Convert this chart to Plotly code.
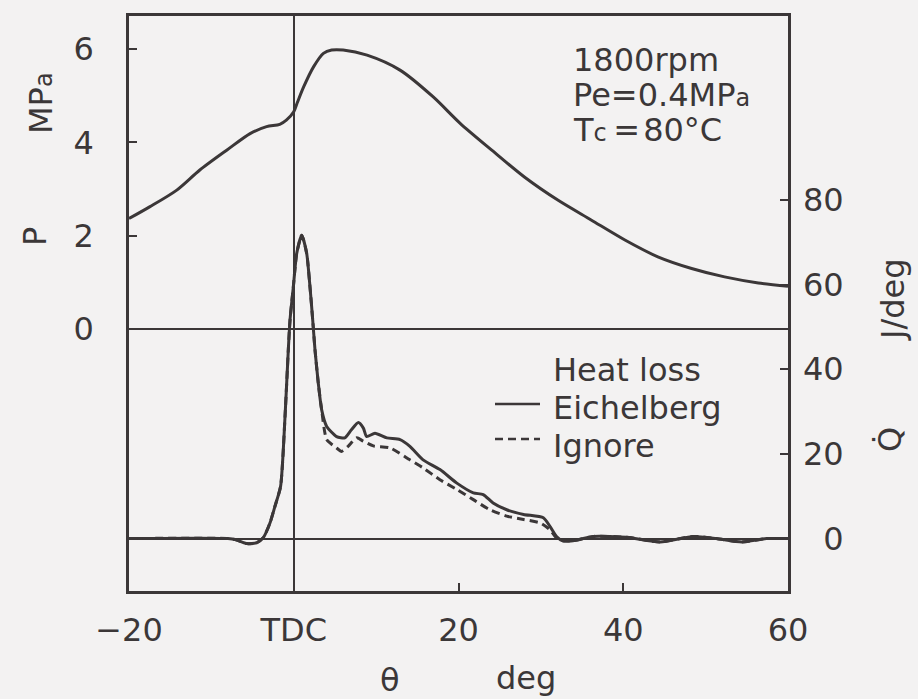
import plotly.graph_objects as go

# ---- data ----
theta_p = [-20, -17.5, -14.2, -11.4, -8.1, -5.3, -3.3, -1.7, -0.9, 0.0, 0.4, 1.2, 2.4, 3.6, 4.6, 6.0,
           8.9, 12.9, 16.9, 20.2, 24.0, 28.0, 32.1, 36.1, 40.2, 44.2, 48.3, 52.3, 56.4, 60.0]
p_mpa = [2.37, 2.62, 2.98, 3.41, 3.84, 4.19, 4.34, 4.39, 4.48, 4.66, 4.84, 5.19, 5.62, 5.91, 5.98, 5.98,
         5.87, 5.55, 4.98, 4.41, 3.84, 3.26, 2.76, 2.34, 1.91, 1.55, 1.30, 1.12, 0.99, 0.92]

theta_e = [-20, -8.0, -7.0, -5.7, -4.5, -3.7, -2.9, -2.3, -1.6, -1.06, -0.66, -0.45, -0.05, 0.36, 0.97,
           1.57, 1.97, 2.3, 2.58, 2.98, 3.39, 4.0, 5.2, 6.2, 7.0, 7.84, 8.45, 8.85, 9.86, 11.3, 12.9,
           14.1, 15.7, 17.75, 19.8, 21.8, 23.0, 24.2, 25.85, 27.9, 30.3, 31.1, 31.9, 32.7, 33.9, 36.4,
           40.4, 44.5, 48.5, 51.3, 54.4, 57.4, 60]
q_eichelberg = [0, 0, -0.3, -1.2, -1.0, 0.2, 3.6, 7.5, 12.3, 28.8, 44.6, 51.7, 59.5, 67.4, 71.7,
                67.4, 59.5, 51.7, 44.6, 36.7, 30.4, 26.5, 24.1, 23.8, 25.7, 27.4, 26.1, 24.1, 24.9, 23.8, 23.4,
                21.8, 18.6, 16.3, 13.1, 10.8, 10.4, 8.4, 6.8, 5.7, 4.9, 2.9, 0.5, -0.6, -0.5, 0.5,
                0.3, -0.8, 0.5, 0.0, -0.8, 0.0, 0.0]

theta_i = [-20, -8.0, -7.0, -5.7, -4.5, -3.7, -2.9, -2.3, -1.6, -1.06, -0.66, -0.45, -0.05, 0.36, 0.97,
           1.57, 1.97, 2.3, 2.58, 2.98, 3.39, 4.0, 5.2, 5.8, 6.6, 7.64, 8.45, 9.66, 11.7, 14.1, 15.7,
           17.75, 19.8, 21.8, 23.8, 25.85, 27.9, 29.9, 31.1, 32.1, 33.9, 36.4,
           40.4, 44.5, 48.5, 51.3, 54.4, 57.4, 60]
q_ignore = [0, 0, -0.3, -1.2, -1.0, 0.2, 3.6, 7.5, 12.3, 28.8, 44.6, 51.7, 59.5, 67.4, 71.7,
            67.4, 59.5, 51.7, 44.6, 36.7, 30.4, 23.4, 21.4, 20.6, 21.8, 23.8, 23.0, 21.9, 21.4, 18.6, 16.7,
            13.9, 11.6, 9.2, 6.8, 5.3, 4.5, 3.7, 2.1, -0.2, -0.5, 0.5,
            0.3, -0.8, 0.5, 0.0, -0.8, 0.0, 0.0]

x_tickvals = [-20, 0, 20, 40, 60]
x_ticktext = ["\u221220", "TDC", "20", "40", "60"]
p_tickvals = [0, 2, 4, 6]
q_tickvals = [0, 20, 40, 60, 80]
q_ticktext = ["\u20070", "20", "40", "60", "80"]

legend_title = "Heat loss"
legend_names = ["Eichelberg", "Ignore"]

INK = "#3b3738"
BG = "#f3f2f2"
FONT = "DejaVu Sans"
FS = 32
LW = 3

fig = go.Figure()
fig.add_trace(go.Scatter(x=theta_p, y=p_mpa, mode="lines", yaxis="y", showlegend=False,
                         line=dict(color=INK, width=LW, shape="spline", smoothing=0.8)))
fig.add_trace(go.Scatter(x=theta_e, y=q_eichelberg, mode="lines", yaxis="y2", name=legend_names[0],
                         showlegend=False,
                         line=dict(color=INK, width=LW, shape="spline", smoothing=0.6)))
fig.add_trace(go.Scatter(x=theta_i, y=q_ignore, mode="lines", yaxis="y2", name=legend_names[1],
                         showlegend=False,
                         line=dict(color=INK, width=LW, dash="8px,5px", shape="spline", smoothing=0.6)))

W, H = 918, 699
L, R, T, B = 129, 130, 16, 108
pw, ph = W - L - R, H - T - B


def px(xp, yp):
    return (xp - L) / pw, (H - B - yp) / ph


annots = []
shapes = []


def add_text(text, xp, yp, angle=0, xanchor="center", yanchor="middle", size=FS):
    x, y = px(xp, yp)
    annots.append(dict(text=text, x=x, y=y, xref="paper", yref="paper", showarrow=False,
                       textangle=angle, xanchor=xanchor, yanchor=yanchor,
                       font=dict(family=FONT, size=size, color=INK)))


def add_key(x0p, x1p, yp, dash):
    x0, y = px(x0p, yp)
    x1, _ = px(x1p, yp)
    shapes.append(dict(type="line", xref="paper", yref="paper", x0=x0, x1=x1, y0=y, y1=y,
                       line=dict(color=INK, width=2.5, dash=dash)))


add_text("P", 35, 237, angle=-90)
add_text("MP<span style='font-size:24px'>a</span>", 41, 103, angle=-90)
add_text("\u03b8", 390, 680)
add_text("deg", 526, 678)
add_text("J/deg", 893, 300, angle=-90)
add_text("Q\u0307", 890, 440, angle=-90)
add_text("1800rpm", 571, 60, xanchor="left")
add_text("Pe=0.4MP<span style='font-size:24px'>a</span>", 571, 95, xanchor="left")
add_text("T<span style='font-size:24px'>c</span>\u2009=\u200a80°C", 571, 130, xanchor="left")

# legend (key)
add_text(legend_title, 551, 370, xanchor="left")
add_text(legend_names[0], 551, 408, xanchor="left")
add_text(legend_names[1], 551, 446, xanchor="left")
add_key(495, 540, 404, "solid")
add_key(495, 540, 439, "8px,5px")

fig.update_layout(
    width=W, height=H,
    margin=dict(l=L, r=R, t=T, b=B, pad=0),
    paper_bgcolor=BG, plot_bgcolor=BG,
    font=dict(family=FONT, size=FS, color=INK),
    annotations=annots, shapes=shapes, showlegend=False,
    xaxis=dict(range=[-20, 60], tickvals=x_tickvals, ticktext=x_ticktext, ticks="inside", ticklen=8,
               tickwidth=2, tickcolor=INK, showline=True, mirror=True, linecolor=INK, linewidth=2.5,
               showgrid=False, zeroline=True, zerolinecolor=INK, zerolinewidth=1.5,
               ticklabelstandoff=9, tickfont=dict(family=FONT, size=FS, color=INK)),
    yaxis=dict(range=[-5.61, 6.71], tickvals=p_tickvals, ticks="inside", ticklen=8, tickwidth=2,
               tickcolor=INK, showline=True, mirror=True, linecolor=INK, linewidth=2.5,
               showgrid=False, zeroline=True, zerolinecolor=INK, zerolinewidth=1.5,
               ticklabelstandoff=26, tickfont=dict(family=FONT, size=FS, color=INK)),
    yaxis2=dict(range=[-12.4, 123.5], overlaying="y", side="right", tickvals=q_tickvals,
                ticktext=q_ticktext, ticks="inside", ticklen=8, tickwidth=2, tickcolor=INK,
                showline=False, showgrid=False, zeroline=True, zerolinecolor=INK, zerolinewidth=1.5,
                ticklabelstandoff=14, tickfont=dict(family=FONT, size=FS, color=INK)),
)

fig.write_html("out.html")
